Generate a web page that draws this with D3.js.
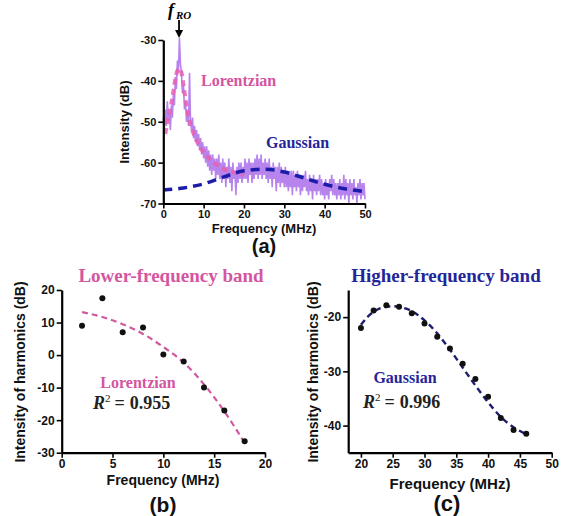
<!DOCTYPE html>
<html><head><meta charset="utf-8">
<script src="https://cdn.jsdelivr.net/npm/d3@7"></script>
<style>
body{margin:0;background:#fff;}
svg{display:block;}
</style></head>
<body>
<svg id="c" width="570" height="516" font-family="Arial, 'Liberation Sans', sans-serif"></svg>
<script>
// ---------- Panel (a): spectrum ----------
const spectrumStartMHz = 0;
const spectrumStepMHz = 0.25;
const spectrumDB = [
-49,-52,-47,-51,-45,-50,-48,-52,-46,-49,-43,-46,-39,-42,-35,-38,-29.5,-36,-38,-43,
-41,-47,-45,-50,-47,-51,-38,-50,-52,-49,-54,-51,-55,-52,-56,-53,-57,-54,-58,-55,
-59,-56,-60,-56,-61,-57,-62,-58,-63,-58,-62,-59,-64,-59,-63,-58,-64,-60,-65,-59,
-64,-60,-66,-61,-64,-59,-65,-61,-67,-60,-64,-62,-68,-61,-65,-60,-64,-60,-65,-61,
-64,-59,-64,-60,-65,-59,-63,-60,-65,-60,-64,-59,-63,-58,-64,-59,-63,-58,-64,-60,
-63,-59,-64,-60,-65,-59,-64,-61,-66,-60,-64,-61,-67,-61,-65,-60,-66,-61,-65,-62,
-66,-61,-66,-62,-67,-62,-66,-62,-68,-62,-66,-63,-67,-62,-66,-63,-68,-63,-67,-63,
-66,-62,-67,-64,-68,-63,-67,-64,-69,-63,-67,-64,-68,-64,-67,-63,-68,-64,-68,-65,
-69,-64,-68,-65,-69,-64,-67,-63,-68,-64,-68,-65,-69,-65,-68,-64,-69,-65,-68,-63,
-69,-64,-68,-65,-70,-64,-68,-65,-69,-64,-68,-66,-70,-65,-68,-64,-69,-65,-68,-65,-69
];
const lorentzFreq = [0.5,1,1.5,2,2.5,3,3.5,4,4.5,5,5.5,6,7,8,9,10,12,14,16,18,20];
const lorentzDB   = [-53,-50,-48,-45.5,-42.5,-39.5,-37.5,-37,-38,-41,-44.5,-47.5,-51.5,-54,-56,-57.5,-59.5,-61,-62,-62.5,-63];
const gaussAFreq = [0,5,10,15,20,25,30,35,40,45,50];
const gaussADB   = [-66.7,-66.2,-65.2,-63.5,-62,-61.6,-62.3,-63.8,-65.3,-66.4,-67.1];
const aXTicks = [0,10,20,30,40,50];
const aYTicks = [-70,-60,-50,-40,-30];

// ---------- Panel (b): lower-frequency band ----------
const bFreq = [2,4,6,8,10,12,14,16,18];
const bIntensity = [9,17.5,7,8.5,0.2,-2,-10,-17,-26.5];
const bFitFreq = [2,4,6,8,10,12,14,16,18];
const bFitDB   = [13.2,11.7,9.5,6.5,2.5,-2.3,-9,-17.3,-27];
const bXTicks = [0,5,10,15,20];
const bYTicks = [-30,-20,-10,0,10,20];

// ---------- Panel (c): higher-frequency band ----------
const cFreq = [20,22,24,26,28,30,32,34,36,38,40,42,44,46];
const cIntensity = [-22,-18.8,-17.8,-18.1,-19.3,-21.2,-23.6,-25.8,-28.6,-31.4,-34.7,-38.6,-40.8,-41.5];
const cFitFreq = [20,21,22,23,24,25,26,27,28,30,32,34,36,38,40,42,44,46];
const cFitDB   = [-21.4,-20,-19,-18.4,-18.1,-18,-18.1,-18.4,-18.9,-20.6,-23,-26,-29.3,-32.6,-35.7,-38.4,-40.3,-41.6];
const cXTicks = [20,25,30,35,40,45,50];
const cYTicks = [-40,-30,-20];

const svg = d3.select("#c");
const pink = "#d4559f", navy = "#25259a";
const SERIF = "'Liberation Serif', 'Times New Roman', serif";
const SANS = "Arial, 'Liberation Sans', sans-serif";

function axes(g, x, y, xMajor, xMinor, yMajor, yMinor, fs) {
  const xa = g.append("g").attr("transform", `translate(0,${y.range()[0]})`);
  xa.call(d3.axisBottom(x).tickValues(xMinor).tickSize(3).tickSizeOuter(0).tickFormat(""));
  xa.call(d3.axisBottom(x).tickValues(xMajor).tickSize(5).tickSizeOuter(0).tickPadding(2).tickFormat(d => String(d)));
  const ya = g.append("g").attr("transform", `translate(${x.range()[0]},0)`);
  ya.call(d3.axisLeft(y).tickValues(yMinor).tickSize(3).tickSizeOuter(0).tickFormat(""));
  ya.call(d3.axisLeft(y).tickValues(yMajor).tickSize(5).tickSizeOuter(0).tickPadding(2).tickFormat(d => String(d)));
  [xa, ya].forEach(a => {
    a.attr("font-family", null).attr("font-size", null);
    a.selectAll("path.domain").attr("stroke", "#000").attr("stroke-width", 2.2);
    a.selectAll(".tick line").attr("stroke", "#000").attr("stroke-width", 1.6);
    a.selectAll("text").style("font-size", fs + "px").style("font-weight", "bold").attr("fill", "#111")
      .style("font-family", SANS);
  });
}

function label(g, txt, x, y, size, opts = {}) {
  const t = g.append("text").attr("x", x).attr("y", y)
    .attr("text-anchor", opts.anchor || "middle")
    .attr("fill", opts.fill || "#111")
    .style("font-family", opts.family || SANS)
    .style("font-size", size + "px")
    .style("font-weight", opts.weight || "bold")
    .text(txt);
  if (opts.rotate) t.attr("x", null).attr("y", null).attr("transform", `translate(${x},${y}) rotate(-90)`);
  return t;
}

// ===== Panel (a) =====
{
  const x = d3.scaleLinear().domain([0, 50]).range([163.3, 365]);
  const y = d3.scaleLinear().domain([-70, -30]).range([203.5, 40]);
  const g = svg.append("g");
  const spec = spectrumDB.map((v, i) => [spectrumStartMHz + i * spectrumStepMHz, v]);
  g.append("path").datum(spec)
    .attr("d", d3.line().x(d => x(d[0])).y(d => y(d[1])))
    .attr("fill", "none").attr("stroke", "#b784ee").attr("stroke-width", 1.6);
  g.append("path").datum(d3.zip(lorentzFreq, lorentzDB))
    .attr("d", d3.line().curve(d3.curveMonotoneX).x(d => x(d[0])).y(d => y(d[1])))
    .attr("fill", "none").attr("stroke", "#e75fb2").attr("stroke-opacity", 0.85)
    .attr("stroke-width", 4).attr("stroke-dasharray", "6,4");
  g.append("path").datum(d3.zip(gaussAFreq, gaussADB))
    .attr("d", d3.line().curve(d3.curveMonotoneX).x(d => x(d[0])).y(d => y(d[1])))
    .attr("fill", "none").attr("stroke", "#1c1caa")
    .attr("stroke-width", 3.5).attr("stroke-dasharray", "9,6");
  axes(g, x, y, aXTicks, d3.range(0, 51, 1), aYTicks, d3.range(-70, -29, 1), 11);
  label(g, "Frequency (MHz)", 264, 233, 13);
  label(g, "Intensity (dB)", 129, 122, 13, {rotate: true});
  label(g, "(a)", 264, 253, 20);
  // f_RO label and arrow
  const fr = g.append("text").attr("x", 168).attr("y", 16)
    .style("font-family", SERIF).style("font-style", "italic").style("font-weight", "bold");
  fr.append("tspan").style("font-size", "18px").text("f");
  fr.append("tspan").style("font-size", "11px").attr("dy", 3).attr("dx", 2).text("RO");
  g.append("line").attr("x1", x(3.9)).attr("x2", x(3.9)).attr("y1", 20).attr("y2", 32)
    .attr("stroke", "#000").attr("stroke-width", 1.8);
  g.append("path").attr("d", `M${x(3.9)-4},30 L${x(3.9)+4},30 L${x(3.9)},38 Z`).attr("fill", "#000");
  label(g, "Lorentzian", 201, 86, 16, {anchor: "start", fill: pink, family: SERIF});
  label(g, "Gaussian", 266, 148, 16, {anchor: "start", fill: navy, family: SERIF});
}

function r2(g, xx, yy, val) {
  const t = g.append("text").attr("x", xx).attr("y", yy).attr("fill", "#222")
    .style("font-family", SERIF).style("font-size", "18px");
  t.append("tspan").style("font-style", "italic").style("font-weight", "bold").text("R");
  t.append("tspan").style("font-size", "11px").attr("dy", -7).text("2");
  t.append("tspan").attr("dy", 7).attr("dx", 4).style("font-weight", "bold").text("=");
  t.append("tspan").attr("dx", 5).style("font-weight", "bold").text(val);
}

// ===== Panel (b) =====
{
  const x = d3.scaleLinear().domain([0, 20]).range([61.7, 265]);
  const y = d3.scaleLinear().domain([-30, 20]).range([452.7, 290]);
  const g = svg.append("g");
  g.append("path").datum(d3.zip(bFitFreq, bFitDB))
    .attr("d", d3.line().curve(d3.curveMonotoneX).x(d => x(d[0])).y(d => y(d[1])))
    .attr("fill", "none").attr("stroke", "#cf5a9f").attr("stroke-width", 2.2).attr("stroke-dasharray", "6,4");
  g.selectAll("circle").data(d3.zip(bFreq, bIntensity)).join("circle")
    .attr("cx", d => x(d[0])).attr("cy", d => y(d[1])).attr("r", 3).attr("fill", "#111");
  axes(g, x, y, bXTicks, d3.range(0, 21, 1), bYTicks, d3.range(-30, 21, 2), 12);
  label(g, "Frequency (MHz)", 163, 485, 14);
  label(g, "Intensity of harmonics (dB)", 25, 372, 14, {rotate: true});
  label(g, "(b)", 163, 512, 21);
  label(g, "Lower-frequency band", 171, 282, 19, {fill: pink, family: SERIF});
  label(g, "Lorentzian", 138, 388, 16, {fill: pink, family: SERIF});
  r2(g, 93, 409, "0.955");
}

// ===== Panel (c) =====
{
  const x = d3.scaleLinear().domain([18, 50]).range([348.2, 551.7]);
  const y = d3.scaleLinear().domain([-45, -15]).range([452.7, 290]);
  const g = svg.append("g");
  g.append("path").datum(d3.zip(cFitFreq, cFitDB))
    .attr("d", d3.line().curve(d3.curveMonotoneX).x(d => x(d[0])).y(d => y(d[1])))
    .attr("fill", "none").attr("stroke", "#1d1d6e").attr("stroke-width", 2.4).attr("stroke-dasharray", "6,4");
  g.selectAll("circle").data(d3.zip(cFreq, cIntensity)).join("circle")
    .attr("cx", d => x(d[0])).attr("cy", d => y(d[1])).attr("r", 3).attr("fill", "#111");
  axes(g, x, y, cXTicks, d3.range(18, 51, 1), cYTicks, d3.range(-44, -15, 2), 12);
  label(g, "Frequency (MHz)", 450, 489, 15);
  label(g, "Intensity of harmonics (dB)", 318, 372, 14, {rotate: true});
  label(g, "(c)", 447, 511, 22);
  label(g, "Higher-frequency band", 446, 282, 19, {fill: navy, family: SERIF});
  label(g, "Gaussian", 405, 383, 16, {fill: navy, family: SERIF});
  r2(g, 363, 408, "0.996");
}
</script>
</body></html>
